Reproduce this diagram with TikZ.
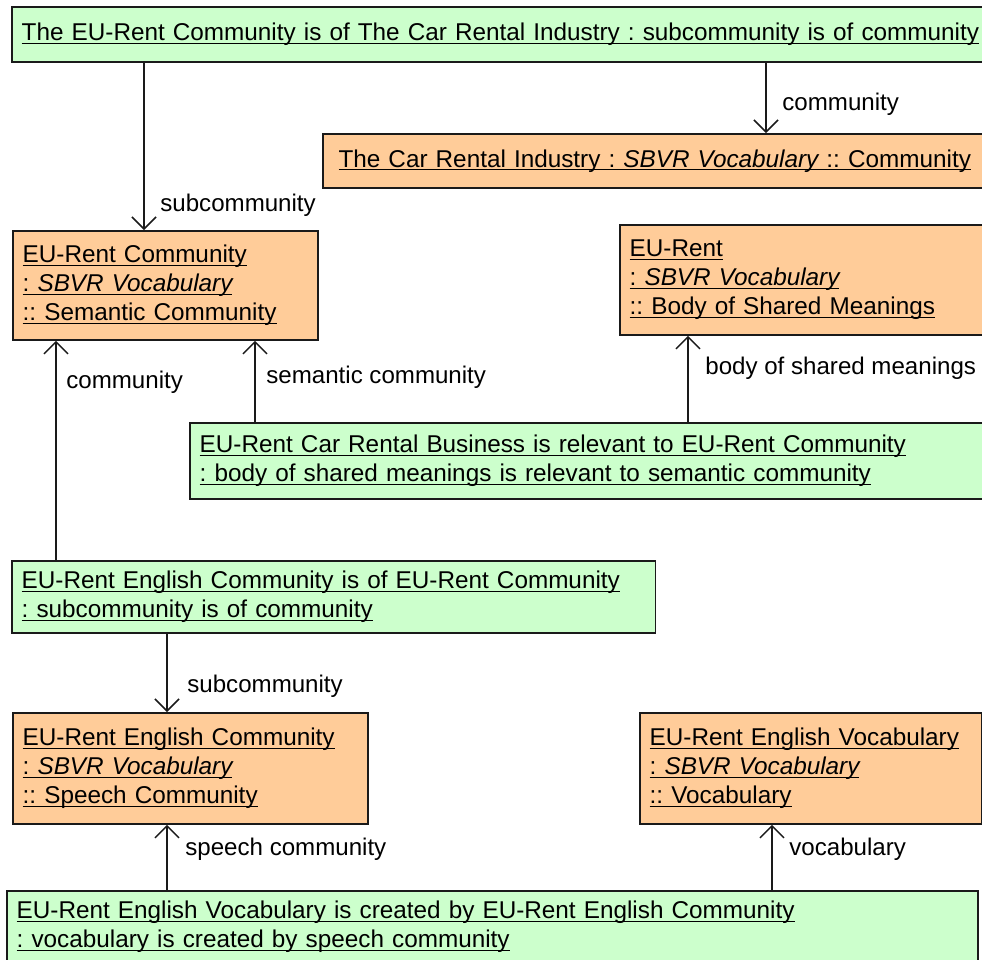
\documentclass[tikz,border=0pt]{standalone}
\usepackage{fontspec}
\setmainfont{Liberation Sans}
\usetikzlibrary{arrows.meta}
\definecolor{gfill}{HTML}{CCFFCC}
\definecolor{ofill}{HTML}{FFCC99}
\definecolor{edgecol}{HTML}{1A1A1A}
\frenchspacing
\newsavebox{\ulbox}
\newcommand{\ULn}[1]{\leavevmode\sbox{\ulbox}{#1}\rlap{\rule[-1.65pt]{\wd\ulbox}{0.65pt}}\usebox{\ulbox}}
\newcommand{\boxfont}{\fontsize{12.15pt}{14.5pt}\selectfont\frenchspacing}
\newcommand{\lblfont}{\fontsize{12.05pt}{14.5pt}\selectfont}
\tikzset{
  basebox/.style={draw=edgecol, line width=0.9pt, anchor=north west,
    inner xsep=4.9pt, inner ysep=0pt, align=left, font=\boxfont},
  gbox/.style={basebox, fill=gfill},
  obox/.style={basebox, fill=ofill},
  lbl/.style={anchor=base west, inner sep=0pt, font=\lblfont},
  conn/.style={draw=edgecol, line width=0.75pt, -{Straight Barb[length=6pt,width=12pt]}}
}
\begin{document}
\begin{tikzpicture}[x=0.5pt,y=-0.5pt]
\useasboundingbox (0,0) rectangle (982,960);
\clip (0,0) rectangle (982,960);
\fill[white] (0,0) rectangle (982,960);

% boxes
\node[gbox, text width=484pt, minimum height=27.5pt] (top) at (11,6)
  {\ULn{The EU-Rent Community is of The Car Rental Industry : subcommunity is of community}};
\node[obox, inner xsep=7.8pt, text width=323pt, minimum height=27pt] (car) at (322,133)
  {\ULn{The Car Rental Industry : {\itshape SBVR Vocabulary} :: Community}};
\node[obox, text width=142.6pt, minimum height=54.5pt] (erc) at (12,230)
  {\ULn{EU-Rent Community}\\ \ULn{: {\itshape SBVR Vocabulary}}\\ \ULn{:: Semantic Community}};
\node[obox, text width=180pt, minimum height=55pt] (eur) at (619,224)
  {\ULn{EU-Rent}\\ \ULn{: {\itshape SBVR Vocabulary}}\\ \ULn{:: Body of Shared Meanings}};
\node[gbox, text width=395pt, minimum height=38pt] (rel) at (189,422)
  {\ULn{EU-Rent Car Rental Business is relevant to EU-Rent Community}\\ \ULn{: body of shared meanings is relevant to semantic community}};
\node[gbox, text width=312pt, minimum height=36pt] (isof) at (11,560)
  {\ULn{EU-Rent English Community is of EU-Rent Community}\\ \ULn{: subcommunity is of community}};
\node[obox, text width=167.6pt, minimum height=55.5pt] (ec) at (12,712)
  {\ULn{EU-Rent English Community}\\ \ULn{: {\itshape SBVR Vocabulary}}\\ \ULn{:: Speech Community}};
\node[obox, text width=161pt, minimum height=55.5pt] (ev) at (639,712)
  {\ULn{EU-Rent English Vocabulary}\\ \ULn{: {\itshape SBVR Vocabulary}}\\ \ULn{:: Vocabulary}};
\node[gbox, text width=475.6pt, minimum height=36pt] (bot) at (6,890)
  {\ULn{EU-Rent English Vocabulary is created by EU-Rent English Community}\\ \ULn{: vocabulary is created by speech community}};

% connector x positions
\coordinate (x1) at (144,0);
\coordinate (x2) at (766,0);
\coordinate (x3) at (56,0);
\coordinate (x4) at (255,0);
\coordinate (x5) at (688,0);
\coordinate (x6) at (167,0);
\coordinate (x7) at (772,0);

\draw[conn] (x1 |- top.south) -- (x1 |- erc.north);
\draw[conn] (x2 |- top.south) -- (x2 |- car.north);
\draw[conn] (x3 |- isof.north) -- (x3 |- erc.south);
\draw[conn] (x4 |- rel.north) -- (x4 |- erc.south);
\draw[conn] (x5 |- rel.north) -- (x5 |- eur.south);
\draw[conn] (x6 |- isof.south) -- (x6 |- ec.north);
\draw[conn] (x6 |- bot.north) -- (x6 |- ec.south);
\draw[conn] (x7 |- bot.north) -- (x7 |- ev.south);

% labels
\node[lbl] (l1) at (160,211) {subcommunity};
\node[lbl] (l2) at (782,110) {community};
\node[lbl] (l3) at (66,388) {community};
\node[lbl] (l4) at (266,383) {semantic community};
\node[lbl] (l5) at (705,374) {body of shared meanings};
\node[lbl] (l6) at (187,692) {subcommunity};
\node[lbl] (l7) at (185,855) {speech community};
\node[lbl] (l8) at (789,855) {vocabulary};
\end{tikzpicture}
\end{document}
